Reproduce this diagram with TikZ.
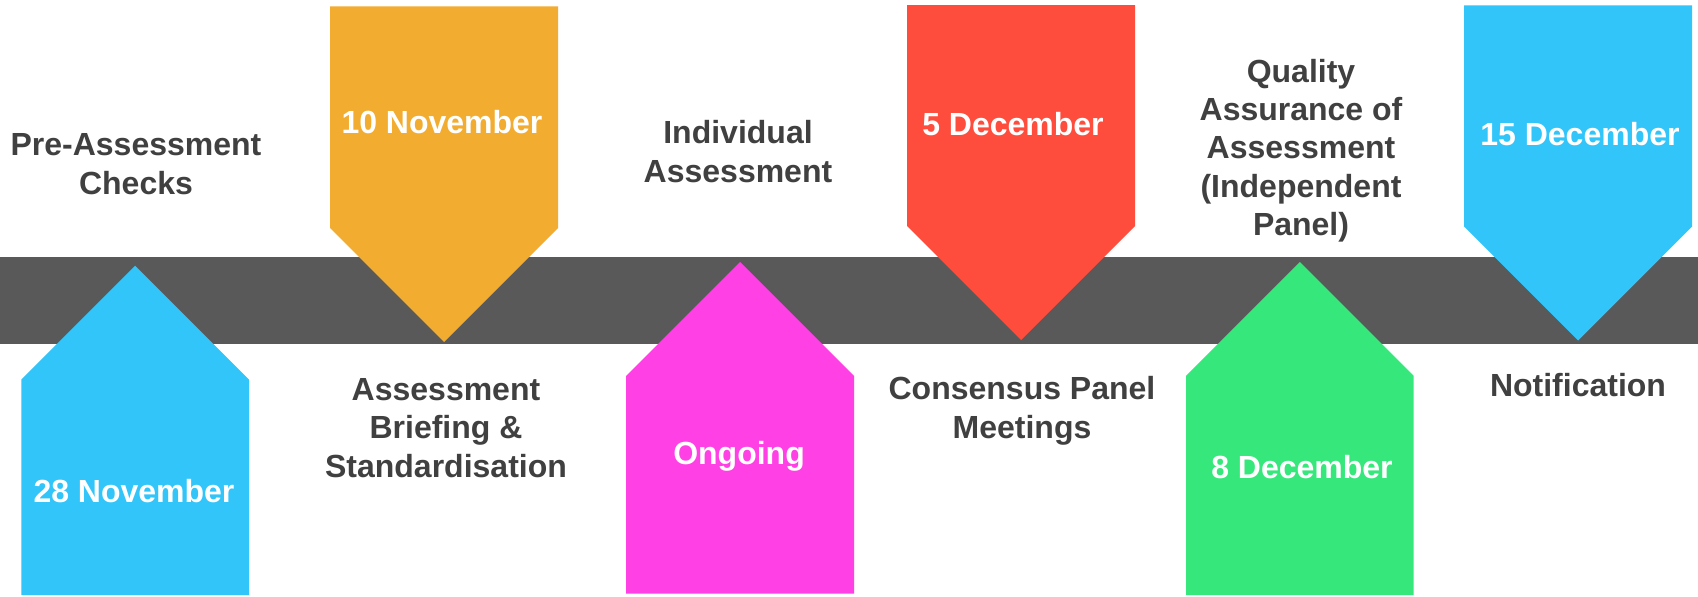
\documentclass[tikz,border=0pt]{standalone}
\usepackage{fontspec}
\setmainfont{Liberation Sans}
\definecolor{band}{HTML}{595959}
\definecolor{txt}{HTML}{404040}
\definecolor{cblue}{HTML}{31C5FA}
\definecolor{corange}{HTML}{F2AC30}
\definecolor{cmagenta}{HTML}{FF40E5}
\definecolor{cred}{HTML}{FF4D3D}
\definecolor{cgreen}{HTML}{36E87C}
\tikzset{
  lbl/.style={font=\bfseries\fontsize{24}{29}\selectfont, text=txt, align=center, inner sep=0pt},
  datelbl/.style={font=\bfseries\fontsize{24}{29}\selectfont, text=white, align=center, inner sep=0pt},
}
\newcommand{\uparrowshape}[5]{% color, left, right, tip y, bottom
  \fill[#1] (#2,#5) -- (#2,{#4+(#3-#2)/2}) -- ({(#2+#3)/2},#4) -- (#3,{#4+(#3-#2)/2}) -- (#3,#5) -- cycle;}
\newcommand{\downarrowshape}[5]{% color, left, right, tip y, top
  \fill[#1] (#2,#5) -- (#3,#5) -- (#3,{#4-(#3-#2)/2}) -- ({(#2+#3)/2},#4) -- (#2,{#4-(#3-#2)/2}) -- cycle;}
\begin{document}
\begin{tikzpicture}[x=0.75pt,y=-0.75pt]
\useasboundingbox (0,0) rectangle (1698,596);
\fill[white] (0,0) rectangle (1698,596);
% timeline band
\fill[band] (0,257) rectangle (1698,344);
% arrows
\uparrowshape{cblue}{21.3}{249}{265.7}{595}
\downarrowshape{corange}{330}{558}{342}{6.3}
\uparrowshape{cmagenta}{626}{854}{262}{593.5}
\downarrowshape{cred}{907}{1135}{340}{5}
\uparrowshape{cgreen}{1186}{1413.5}{262}{595}
\downarrowshape{cblue}{1464}{1692}{340.5}{5.3}
% dates
\node[datelbl] (d1) at (134,491.5) {28 November};
\node[datelbl] (d2) at (442,122) {10 November};
\node[datelbl] (d3) at (739,456.5) {Ongoing};
\node[datelbl] (d4) at (1013,124) {5 December};
\node[datelbl] (d5) at (1302,467.5) {8 December};
\node[datelbl] (d6) at (1580,134) {15 December};
% labels
\node[lbl] (l1) at (136,164) {Pre-Assessment\\Checks};
\node[lbl] (l2) at (446,428) {Assessment\\Briefing \&\\Standardisation};
\node[lbl] (l3) at (738,151.5) {Individual\\Assessment};
\node[lbl] (l4) at (1022,410.5) {Consensus Panel\\Meetings};
\node[lbl, font=\bfseries\fontsize{24}{28.7}\selectfont] (l5) at (1301,150.5) {Quality\\Assurance of\\Assessment\\(Independent\\Panel)};
\node[lbl] (l6) at (1578,385.5) {Notification};
\end{tikzpicture}
\end{document}
